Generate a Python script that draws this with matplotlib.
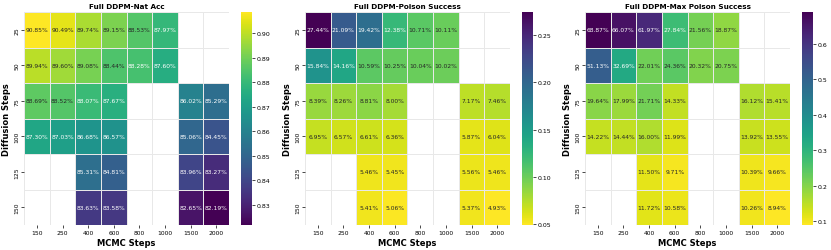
import numpy as np
import matplotlib
matplotlib.use("Agg")
import matplotlib.pyplot as plt
import seaborn as sns

nan = np.nan

diffusion_steps = [25, 50, 75, 100, 125, 150]
mcmc_steps = [150, 250, 400, 600, 800, 1000, 1500, 2000]

# 각 셀의 값 (%)
nat_acc = [
    [90.85, 90.49, 89.74, 89.15, 88.53, 87.97, nan, nan],
    [89.94, 89.60, 89.08, 88.44, 88.28, 87.60, nan, nan],
    [88.69, 88.52, 88.07, 87.67, nan, nan, 86.02, 85.29],
    [87.30, 87.03, 86.68, 86.57, nan, nan, 85.06, 84.45],
    [nan, nan, 85.31, 84.81, nan, nan, 83.96, 83.27],
    [nan, nan, 83.63, 83.58, nan, nan, 82.65, 82.19],
]

poison_success = [
    [27.44, 21.09, 19.42, 12.38, 10.71, 10.11, nan, nan],
    [15.84, 14.16, 10.59, 10.25, 10.04, 10.02, nan, nan],
    [8.39, 8.26, 8.81, 8.00, nan, nan, 7.17, 7.46],
    [6.95, 6.57, 6.61, 6.36, nan, nan, 5.87, 6.04],
    [nan, nan, 5.46, 5.45, nan, nan, 5.56, 5.46],
    [nan, nan, 5.41, 5.06, nan, nan, 5.37, 4.93],
]

max_poison_success = [
    [68.87, 66.07, 61.97, 27.84, 21.56, 18.87, nan, nan],
    [51.13, 32.69, 22.01, 24.36, 20.32, 20.75, nan, nan],
    [19.64, 17.99, 21.71, 14.33, nan, nan, 16.12, 15.41],
    [14.22, 14.44, 16.00, 11.99, nan, nan, 13.92, 13.55],
    [nan, nan, 11.50, 9.71, nan, nan, 10.39, 9.66],
    [nan, nan, 11.72, 10.58, nan, nan, 10.26, 8.94],
]

titles = ["Full DDPM-Nat Acc", "Full DDPM-Poison Success", "Full DDPM-Max Poison Success"]
cmaps = ["viridis", "viridis_r", "viridis_r"]

fig = plt.figure(figsize=(8.31, 2.51), dpi=100)

lefts = [0.029, 0.367, 0.704]
cbar_lefts = [0.290, 0.628, 0.965]
bottom, height = 0.0996, 0.8486

for i, data in enumerate([nat_acc, poison_success, max_poison_success]):
    arr = np.array(data) / 100.0
    ax = fig.add_axes([lefts[i], bottom, 0.2467, height])
    cax = fig.add_axes([cbar_lefts[i], bottom, 0.0132, height])
    sns.heatmap(arr, ax=ax, cbar_ax=cax, cmap=cmaps[i], annot=True, fmt=".2%",
                annot_kws={"fontsize": 4.3}, linewidths=0.4, linecolor="#e8e8e8",
                xticklabels=mcmc_steps, yticklabels=diffusion_steps)
    ax.set_title(titles[i], fontsize=5.2, fontweight="bold", pad=3)
    ax.set_xlabel("MCMC Steps", fontsize=6, fontweight="bold", labelpad=2)
    ax.set_ylabel("Diffusion Steps", fontsize=6, fontweight="bold", labelpad=2)
    ax.tick_params(axis="both", labelsize=4.3, length=2, width=0.5, pad=1.5)
    plt.setp(ax.get_yticklabels(), rotation=90, va="center")
    plt.setp(ax.get_xticklabels(), rotation=0)
    cax.tick_params(labelsize=4.5, length=2, width=0.5, pad=1.5)
    for sp in cax.spines.values():
        sp.set_visible(False)

fig.savefig("out.png", dpi=100)
